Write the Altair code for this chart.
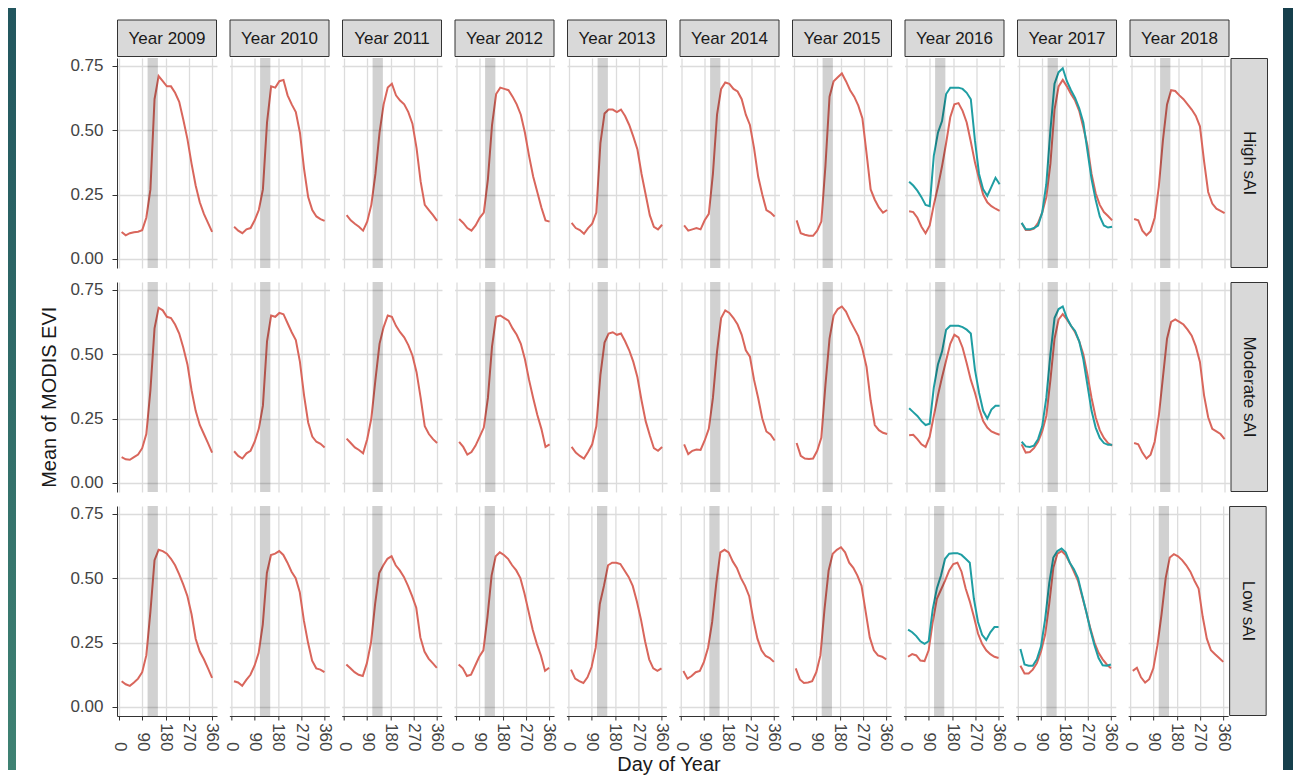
import altair as alt
import pandas as pd

FONT = "Liberation Sans"
RED = "#d9665c"
TEAL = "#1f9ea3"

DAYS = [9, 25, 41, 57, 73, 89, 105, 121, 137, 153, 169, 185, 201, 217, 233, 249, 265, 281, 297, 313, 329, 345, 361]
YEARS = [2009, 2010, 2011, 2012, 2013, 2014, 2015, 2016, 2017, 2018]
ROW_LABELS = ["High sAI", "Moderate sAI", "Low sAI"]
X_TICKS = [0, 90, 180, 270, 360]
Y_TICKS = [0, 0.25, 0.5, 0.75]
BAND_START = [110]
BAND_END = [150]

HIGH_RED = {
    2009: [0.105, 0.092, 0.100, 0.104, 0.106, 0.112, 0.160, 0.270, 0.620, 0.710, 0.690, 0.670, 0.670, 0.645, 0.610, 0.540, 0.465, 0.370, 0.285, 0.220, 0.175, 0.140, 0.105],
    2010: [0.125, 0.110, 0.100, 0.115, 0.120, 0.150, 0.190, 0.270, 0.530, 0.670, 0.665, 0.690, 0.695, 0.635, 0.600, 0.570, 0.490, 0.350, 0.240, 0.190, 0.165, 0.155, 0.148],
    2011: [0.170, 0.150, 0.137, 0.125, 0.110, 0.145, 0.210, 0.330, 0.490, 0.600, 0.665, 0.680, 0.635, 0.615, 0.600, 0.570, 0.525, 0.430, 0.300, 0.210, 0.190, 0.170, 0.148],
    2012: [0.155, 0.140, 0.120, 0.110, 0.130, 0.160, 0.180, 0.310, 0.520, 0.640, 0.665, 0.660, 0.655, 0.630, 0.600, 0.560, 0.490, 0.400, 0.320, 0.260, 0.200, 0.150, 0.145],
    2013: [0.140, 0.120, 0.112, 0.098, 0.120, 0.137, 0.180, 0.450, 0.565, 0.580, 0.580, 0.570, 0.580, 0.555, 0.520, 0.475, 0.425, 0.330, 0.250, 0.170, 0.125, 0.115, 0.133],
    2014: [0.130, 0.110, 0.115, 0.120, 0.115, 0.150, 0.175, 0.330, 0.560, 0.660, 0.685, 0.680, 0.660, 0.650, 0.620, 0.560, 0.520, 0.430, 0.320, 0.250, 0.190, 0.180, 0.165],
    2015: [0.150, 0.100, 0.094, 0.090, 0.090, 0.110, 0.145, 0.360, 0.630, 0.690, 0.705, 0.720, 0.690, 0.655, 0.630, 0.595, 0.545, 0.410, 0.270, 0.230, 0.200, 0.180, 0.190],
    2016: [0.185, 0.182, 0.160, 0.125, 0.100, 0.130, 0.210, 0.280, 0.360, 0.450, 0.550, 0.600, 0.605, 0.575, 0.530, 0.455, 0.375, 0.310, 0.250, 0.220, 0.205, 0.195, 0.187],
    2017: [0.140, 0.112, 0.112, 0.118, 0.140, 0.180, 0.240, 0.370, 0.580, 0.670, 0.695, 0.670, 0.640, 0.615, 0.575, 0.510, 0.440, 0.330, 0.255, 0.210, 0.182, 0.167, 0.150],
    2018: [0.155, 0.150, 0.110, 0.092, 0.108, 0.160, 0.280, 0.460, 0.600, 0.655, 0.652, 0.635, 0.620, 0.600, 0.580, 0.555, 0.515, 0.380, 0.260, 0.215, 0.195, 0.187, 0.178],
}
HIGH_TEAL = {
    2016: [0.300, 0.285, 0.265, 0.240, 0.210, 0.205, 0.400, 0.490, 0.535, 0.640, 0.665, 0.665, 0.665, 0.660, 0.645, 0.620, 0.460, 0.330, 0.270, 0.245, 0.280, 0.315, 0.290],
    2017: [0.140, 0.115, 0.115, 0.120, 0.130, 0.180, 0.290, 0.500, 0.680, 0.725, 0.740, 0.690, 0.655, 0.625, 0.585, 0.530, 0.420, 0.310, 0.230, 0.165, 0.130, 0.122, 0.125],
}
MOD_RED = {
    2009: [0.100, 0.092, 0.090, 0.100, 0.110, 0.135, 0.190, 0.360, 0.600, 0.680, 0.670, 0.645, 0.640, 0.615, 0.580, 0.525, 0.460, 0.360, 0.280, 0.225, 0.190, 0.155, 0.118],
    2010: [0.123, 0.105, 0.095, 0.115, 0.125, 0.160, 0.210, 0.300, 0.550, 0.650, 0.645, 0.660, 0.655, 0.620, 0.585, 0.555, 0.470, 0.340, 0.235, 0.180, 0.160, 0.152, 0.138],
    2011: [0.172, 0.155, 0.138, 0.128, 0.115, 0.170, 0.250, 0.400, 0.540, 0.605, 0.650, 0.645, 0.610, 0.585, 0.565, 0.535, 0.495, 0.430, 0.330, 0.220, 0.190, 0.170, 0.155],
    2012: [0.160, 0.140, 0.110, 0.120, 0.145, 0.180, 0.215, 0.330, 0.530, 0.645, 0.650, 0.640, 0.630, 0.600, 0.575, 0.540, 0.480, 0.400, 0.330, 0.265, 0.210, 0.140, 0.150],
    2013: [0.140, 0.118, 0.105, 0.095, 0.120, 0.150, 0.220, 0.420, 0.545, 0.580, 0.585, 0.575, 0.580, 0.550, 0.515, 0.470, 0.410, 0.320, 0.240, 0.185, 0.135, 0.125, 0.140],
    2014: [0.150, 0.112, 0.125, 0.130, 0.128, 0.165, 0.210, 0.330, 0.510, 0.640, 0.670, 0.660, 0.640, 0.615, 0.575, 0.515, 0.490, 0.400, 0.330, 0.250, 0.200, 0.188, 0.165],
    2015: [0.155, 0.105, 0.095, 0.093, 0.095, 0.125, 0.175, 0.380, 0.560, 0.650, 0.675, 0.685, 0.665, 0.630, 0.600, 0.570, 0.520, 0.450, 0.320, 0.225, 0.205, 0.195, 0.190],
    2016: [0.185, 0.187, 0.170, 0.150, 0.140, 0.180, 0.260, 0.340, 0.410, 0.475, 0.540, 0.575, 0.565, 0.525, 0.465, 0.400, 0.350, 0.290, 0.240, 0.215, 0.200, 0.193, 0.187],
    2017: [0.150, 0.118, 0.120, 0.135, 0.160, 0.200, 0.260, 0.400, 0.560, 0.635, 0.655, 0.635, 0.610, 0.585, 0.550, 0.500, 0.420, 0.330, 0.255, 0.205, 0.175, 0.155, 0.145],
    2018: [0.155, 0.150, 0.118, 0.095, 0.110, 0.160, 0.260, 0.410, 0.560, 0.625, 0.635, 0.625, 0.615, 0.595, 0.572, 0.530, 0.470, 0.340, 0.255, 0.210, 0.200, 0.190, 0.170],
}
MOD_TEAL = {
    2016: [0.290, 0.275, 0.260, 0.240, 0.225, 0.230, 0.370, 0.460, 0.510, 0.595, 0.610, 0.610, 0.610, 0.605, 0.595, 0.580, 0.440, 0.350, 0.280, 0.250, 0.285, 0.300, 0.300],
    2017: [0.160, 0.142, 0.140, 0.145, 0.170, 0.220, 0.330, 0.500, 0.640, 0.675, 0.685, 0.640, 0.610, 0.590, 0.550, 0.480, 0.380, 0.280, 0.215, 0.175, 0.155, 0.148, 0.148],
}
LOW_RED = {
    2009: [0.100, 0.088, 0.082, 0.095, 0.110, 0.135, 0.200, 0.370, 0.570, 0.610, 0.605, 0.595, 0.575, 0.550, 0.515, 0.475, 0.430, 0.360, 0.265, 0.215, 0.185, 0.150, 0.113],
    2010: [0.100, 0.095, 0.082, 0.105, 0.125, 0.160, 0.210, 0.320, 0.520, 0.590, 0.595, 0.605, 0.590, 0.560, 0.525, 0.500, 0.445, 0.335, 0.250, 0.180, 0.150, 0.145, 0.135],
    2011: [0.165, 0.150, 0.135, 0.125, 0.120, 0.170, 0.250, 0.400, 0.520, 0.550, 0.575, 0.585, 0.550, 0.530, 0.505, 0.470, 0.430, 0.385, 0.270, 0.215, 0.188, 0.170, 0.152],
    2012: [0.165, 0.150, 0.120, 0.125, 0.160, 0.195, 0.220, 0.350, 0.510, 0.585, 0.600, 0.590, 0.575, 0.550, 0.530, 0.500, 0.440, 0.370, 0.300, 0.245, 0.200, 0.140, 0.152],
    2013: [0.145, 0.110, 0.100, 0.093, 0.115, 0.155, 0.230, 0.400, 0.470, 0.550, 0.560, 0.560, 0.555, 0.530, 0.505, 0.470, 0.410, 0.340, 0.255, 0.185, 0.150, 0.140, 0.150],
    2014: [0.140, 0.110, 0.120, 0.135, 0.140, 0.175, 0.230, 0.330, 0.480, 0.600, 0.610, 0.600, 0.565, 0.540, 0.500, 0.470, 0.430, 0.340, 0.265, 0.220, 0.198, 0.190, 0.175],
    2015: [0.150, 0.107, 0.093, 0.095, 0.100, 0.135, 0.200, 0.380, 0.530, 0.595, 0.610, 0.620, 0.600, 0.560, 0.540, 0.510, 0.470, 0.370, 0.270, 0.220, 0.200, 0.195, 0.185],
    2016: [0.195, 0.205, 0.200, 0.180, 0.178, 0.220, 0.330, 0.420, 0.455, 0.490, 0.530, 0.555, 0.560, 0.525, 0.460, 0.410, 0.350, 0.285, 0.245, 0.220, 0.205, 0.195, 0.190],
    2017: [0.160, 0.130, 0.130, 0.145, 0.170, 0.215, 0.280, 0.400, 0.540, 0.595, 0.605, 0.590, 0.560, 0.525, 0.490, 0.430, 0.370, 0.305, 0.250, 0.210, 0.185, 0.165, 0.150],
    2018: [0.140, 0.152, 0.115, 0.095, 0.108, 0.150, 0.240, 0.360, 0.500, 0.580, 0.593, 0.585, 0.570, 0.550, 0.525, 0.490, 0.460, 0.350, 0.265, 0.220, 0.205, 0.190, 0.175],
}
LOW_TEAL = {
    2016: [0.300, 0.290, 0.275, 0.255, 0.245, 0.255, 0.380, 0.460, 0.510, 0.575, 0.595, 0.597, 0.597, 0.590, 0.575, 0.560, 0.420, 0.330, 0.280, 0.260, 0.290, 0.310, 0.310],
    2017: [0.225, 0.165, 0.160, 0.160, 0.185, 0.235, 0.340, 0.480, 0.580, 0.605, 0.615, 0.600, 0.560, 0.535, 0.500, 0.435, 0.370, 0.300, 0.240, 0.190, 0.162, 0.160, 0.165],
}

RED_BY_ROW = {"High sAI": HIGH_RED, "Moderate sAI": MOD_RED, "Low sAI": LOW_RED}
TEAL_BY_ROW = {"High sAI": HIGH_TEAL, "Moderate sAI": MOD_TEAL, "Low sAI": LOW_TEAL}

W, H = 100, 210
X_DOMAIN = [-9, 380]
Y_DOMAIN = [-0.035, 0.78]
LABEL_SIZE = 17
STRIP_FILL = "#d9d9d9"
STRIP_STROKE = "#333333"
LINE_W = 2.0


def make_panel(r, c, row_label, year):
    first_col = c == 0
    last_row = r == len(ROW_LABELS) - 1
    if first_col:
        yaxis = alt.Axis(values=Y_TICKS, format=".2f", title=None, grid=True,
                         tickSize=5, labelPadding=9, domain=True)
    else:
        yaxis = alt.Axis(values=Y_TICKS, title=None, grid=True, labels=False,
                         ticks=False, domain=False)
    if last_row:
        xaxis = alt.Axis(values=X_TICKS, title=None, grid=True, labelAngle=90,
                         labelAlign="right", labelBaseline="middle",
                         labelPadding=31, tickSize=4, domain=True)
    else:
        xaxis = alt.Axis(values=X_TICKS, title=None, grid=True, labels=False,
                         ticks=False, domain=False)
    xs = alt.Scale(domain=X_DOMAIN, nice=False, zero=False)
    ys = alt.Scale(domain=Y_DOMAIN, nice=False, zero=False)

    red_df = pd.DataFrame({"day": DAYS, "evi": RED_BY_ROW[row_label][year]})
    layers = [
        alt.Chart(red_df).mark_line(color=RED, strokeWidth=LINE_W).encode(
            x=alt.X("day:Q", scale=xs, axis=xaxis),
            y=alt.Y("evi:Q", scale=ys, axis=yaxis),
        )
    ]
    teal_vals = TEAL_BY_ROW[row_label].get(year)
    if teal_vals is not None:
        teal_df = pd.DataFrame({"day": DAYS, "evi": teal_vals})
        layers.append(
            alt.Chart(teal_df).mark_line(color=TEAL, strokeWidth=LINE_W).encode(
                x=alt.X("day:Q", scale=xs, axis=xaxis),
                y=alt.Y("evi:Q", scale=ys, axis=yaxis),
            )
        )
    band_df = pd.DataFrame({"start": BAND_START, "end": BAND_END})
    layers.append(
        alt.Chart(band_df).mark_rect(color="black", opacity=0.18).encode(
            x=alt.X("start:Q", scale=xs, axis=xaxis),
            x2="end:Q",
        )
    )
    if r == 0:
        sdf = pd.DataFrame({"label": [f"Year {year}"]})
        layers.append(
            alt.Chart(sdf).mark_rect(fill=STRIP_FILL, stroke=STRIP_STROKE, strokeWidth=1).encode(
                x=alt.value(0.5), x2=alt.value(W - 0.5), y=alt.value(-38), y2=alt.value(-1.5)
            )
        )
        layers.append(
            alt.Chart(sdf).mark_text(font=FONT, fontSize=17, color="#1a1a1a").encode(
                x=alt.value(W / 2), y=alt.value(-19.5), text="label:N"
            )
        )
    if c == len(YEARS) - 1:
        rdf = pd.DataFrame({"label": [row_label]})
        layers.append(
            alt.Chart(rdf).mark_rect(fill=STRIP_FILL, stroke=STRIP_STROKE, strokeWidth=1).encode(
                x=alt.value(W + 1.5), x2=alt.value(W + 38), y=alt.value(0.5), y2=alt.value(H - 0.5)
            )
        )
        layers.append(
            alt.Chart(rdf).mark_text(font=FONT, fontSize=17, color="#1a1a1a", angle=90).encode(
                x=alt.value(W + 19.5), y=alt.value(H / 2), text="label:N"
            )
        )
    return alt.layer(*layers).properties(width=W, height=H)


rows = []
for r, row_label in enumerate(ROW_LABELS):
    panels = [make_panel(r, c, row_label, year) for c, year in enumerate(YEARS)]
    spacing = 12.5 if r < len(ROW_LABELS) - 1 else 2.35
    rows.append(alt.hconcat(*panels, spacing=spacing))

inner = alt.vconcat(
    *rows, spacing=12,
    title=alt.TitleParams("Day of Year", orient="bottom", anchor="middle", offset=4,
                          fontSize=20, font=FONT, fontWeight="normal", color="#1a1a1a"),
)
mid = alt.hconcat(
    inner,
    title=alt.TitleParams("Mean of MODIS EVI", orient="left", anchor="middle", offset=10,
                          fontSize=20, font=FONT, fontWeight="normal", color="#1a1a1a"),
)

BAR_TOP = -50
BAR_BOTTOM = 712
one = pd.DataFrame({"v": [0]})
left_bar = alt.Chart(one).mark_rect(
    color=alt.LinearGradient(
        gradient="linear", x1=0, x2=0, y1=0, y2=1,
        stops=[alt.GradientStop(color="#22565e", offset=0),
               alt.GradientStop(color="#3f8273", offset=1)],
    )
).encode(x=alt.value(0), x2=alt.value(8), y=alt.value(BAR_TOP), y2=alt.value(BAR_BOTTOM)).properties(width=8, height=H)
right_bar = alt.Chart(one).mark_rect(color="#163f4c").encode(
    x=alt.value(0), x2=alt.value(10), y=alt.value(BAR_TOP), y2=alt.value(BAR_BOTTOM)
).properties(width=10, height=H)

chart = alt.hconcat(
    alt.hconcat(left_bar, mid, spacing=23),
    right_bar,
    spacing=15,
).properties(
    padding={"left": 0, "top": 0, "right": 0, "bottom": 0},
    background="white",
).configure_view(
    stroke=None
).configure_axis(
    labelFont=FONT, labelFontSize=LABEL_SIZE, labelColor="#444444",
    domainColor="#333333", tickColor="#333333", domainWidth=1, tickWidth=1,
    gridColor="#dcdcdc", gridWidth=1.3,
)

chart.save("out.html", embed_options={"renderer": "svg", "actions": False})
